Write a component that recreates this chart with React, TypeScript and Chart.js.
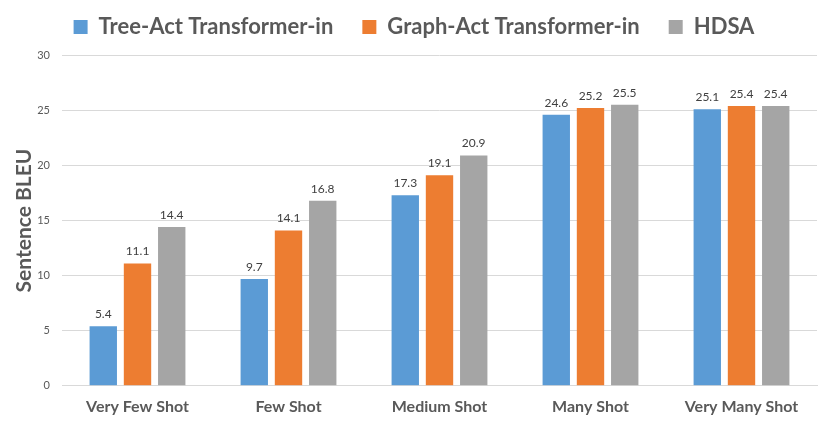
import { useEffect, useRef } from "react"
import { Chart, registerables } from "chart.js"
import type { Plugin } from "chart.js"

Chart.register(...registerables)

const categories = ["Very Few Shot", "Few Shot", "Medium Shot", "Many Shot", "Very Many Shot"]
const treeAct = [5.4, 9.7, 17.3, 24.6, 25.1]
const graphAct = [11.1, 14.1, 19.1, 25.2, 25.4]
const hdsa = [14.4, 16.8, 20.9, 25.5, 25.4]
const yTicks = [0, 5, 10, 15, 20, 25, 30]

const FONT = "Lato, 'Open Sans', sans-serif"

// draws the value above each bar
const valueLabels: Plugin<"bar"> = {
  id: "valueLabels",
  afterDatasetsDraw(chart) {
    const ctx = chart.ctx
    ctx.save()
    ctx.font = `12px ${FONT}`
    ctx.fillStyle = "#404040"
    ctx.textAlign = "center"
    ctx.textBaseline = "bottom"
    chart.data.datasets.forEach((ds, i) => {
      const meta = chart.getDatasetMeta(i)
      meta.data.forEach((bar, j) => {
        const v = ds.data[j] as number
        ctx.fillText(v.toFixed(1), bar.x, bar.y - 6)
      })
    })
    ctx.restore()
  },
}

export default function App() {
  const chartRef = useRef<HTMLCanvasElement>(null)
  const chartInstance = useRef<Chart | null>(null)

  useEffect(() => {
    document.body.style.margin = "0"
    if (!chartRef.current) return
    if (chartInstance.current) chartInstance.current.destroy()
    const ctx = chartRef.current.getContext("2d")
    if (!ctx) return

    chartInstance.current = new Chart(ctx, {
      type: "bar",
      data: {
        labels: categories,
        datasets: [
          { label: "Tree-Act Transformer-in", data: treeAct, backgroundColor: "#5B9BD5" },
          { label: "Graph-Act Transformer-in", data: graphAct, backgroundColor: "#ED7D31" },
          { label: "HDSA", data: hdsa, backgroundColor: "#A5A5A5" },
        ],
      },
      options: {
        animation: false,
        responsive: true,
        maintainAspectRatio: false,
        datasets: {
          bar: { categoryPercentage: 0.68, barPercentage: 0.8 },
        },
        layout: { padding: { top: -13, right: 13, left: 11, bottom: 27 } },
        scales: {
          x: {
            grid: { display: false },
            border: { color: "#d9d9d9", width: 1 },
            ticks: {
              color: "#595959",
              font: { family: FONT, size: 16, weight: "bold" },
              padding: 3,
            },
          },
          y: {
            min: 0,
            max: 30,
            afterBuildTicks: (axis) => {
              axis.ticks = yTicks.map((value) => ({ value }))
            },
            afterFit: (axis) => {
              axis.width = 51
            },
            grid: { color: "#d9d9d9", drawTicks: false },
            border: { display: false },
            ticks: {
              color: "#595959",
              font: { family: FONT, size: 11 },
              padding: 12,
            },
            title: {
              display: true,
              text: "Sentence BLEU",
              color: "#595959",
              font: { family: FONT, size: 21, weight: "bold" },
              padding: 1,
            },
          },
        },
        plugins: {
          legend: {
            position: "top",
            labels: {
              color: "#595959",
              font: { family: FONT, size: 22, weight: "bold" },
              boxWidth: 14,
              boxHeight: 14,
              padding: 29,
            },
          },
          // empty title used as a spacer between legend and plot
          title: {
            display: true,
            text: "",
            weight: 500,
            font: { size: 1 },
            padding: { top: 0, bottom: 6 },
          },
          tooltip: { enabled: false },
        },
      },
      plugins: [valueLabels],
    })

    return () => {
      if (chartInstance.current) chartInstance.current.destroy()
    }
  }, [])

  return (
    <div style={{ width: 830, height: 446, background: "#fff" }}>
      <canvas ref={chartRef} />
    </div>
  )
}
